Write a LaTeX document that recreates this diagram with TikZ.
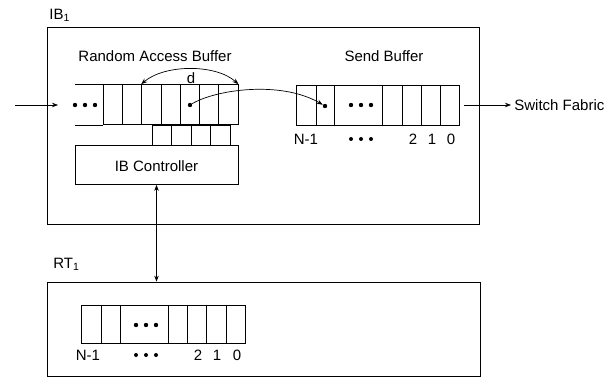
\documentclass[tikz,border=0pt]{standalone}
\usepackage{fontspec}
\setmainfont{Liberation Sans}
\usetikzlibrary{arrows.meta}
\begin{document}
\begin{tikzpicture}[x=1pt,y=-1pt,line width=0.7pt,
  >={Stealth[length=6pt,width=4.5pt]},
  lbl/.style={font=\fontsize{15}{17}\selectfont,inner sep=0pt},
  box/.style={draw,inner sep=0pt},
  cell/.style={draw,inner sep=0pt,minimum height=40pt},
  dotf/.style={fill,circle,inner sep=0pt,minimum size=4.4pt},
  dots/.style={fill,circle,inner sep=0pt,minimum size=4pt}]
\useasboundingbox (0,0) rectangle (614,377);
% outer boxes
\node[box,minimum width=432pt,minimum height=197pt] (ib) at (263,125.5) {};
\node[box,minimum width=433pt,minimum height=94pt] (rt) at (263.5,329) {};
\node[lbl,anchor=west] (ibl) at (49,15) {IB\textsubscript{1}};
\node[lbl,anchor=west] (rtl) at (53,264) {RT\textsubscript{1}};
% random access buffer
\node[lbl] (ralbl) at (155,56) {Random Access Buffer};
\draw (75,84) -- (103,84) (75,125) -- (103,125);
\foreach \i in {0,...,6}{
  \node[cell,minimum width=19.29pt] (ra\i) at ({103+19.29*\i+9.64},104.5) {};
}
\foreach \x in {75,85,95}{\node[dotf] at (\x,105) {};}
% small cells
\foreach \i in {0,...,3}{
  \node[box,minimum width=19.5pt,minimum height=20pt] (sc\i) at ({152+19.5*\i+9.75},135) {};
}
% controller
\node[box,minimum width=163pt,minimum height=39pt] (ctrl) at (156.5,165) {};
\node[lbl] (ctrll) at (156.5,166) {IB Controller};
% d arrow
\draw[<->] (ra2.north west) .. controls (165,64) and (216,64) .. (ra6.north east);
\node[lbl] (dl) at (191,78) {d};
% send buffer
\node[lbl] (sblbl) at (384,56) {Send Buffer};
\draw (296,85) rectangle (459,125);
\foreach \x in {316,334,382,402,421,440}{\draw (\x,85) -- (\x,125);}
\foreach \x in {351,361,371}{\node[dotf] at (\x,105) {};}
\node[dotf] (srcdot) at (190,105) {};
\node[dotf] (dstdot) at (325,106) {};
\draw[->] (srcdot) .. controls (215,90) and (280,80) .. (dstdot);
\node[lbl] at (306,139) {N-1};
\foreach \x in {351,361,371}{\node[dots] at (\x,139) {};}
\node[lbl] at (413,139) {2};
\node[lbl] at (432,139) {1};
\node[lbl] at (451,139) {0};
% in/out arrows
\coordinate (inp) at (15,105);
\coordinate (inq) at (58,105);
\draw[->] (inp) -- (inq);
\coordinate (outp) at (464,105);
\node[lbl,anchor=west] (sf) at (514,105) {Switch Fabric};
\draw[->,shorten >=3pt] (outp) -- (sf.west);
% controller <-> RT
\draw[<->] (ctrl.south) -- (ctrl.south |- rt.north);
% RT buffer
\draw (81,305) rectangle (245,343);
\foreach \x in {101,120,168,187,206,226}{\draw (\x,305) -- (\x,343);}
\foreach \x in {136,146,156}{\node[dotf] at (\x,325) {};}
\node[lbl] at (88,355) {N-1};
\foreach \x in {136,146,156}{\node[dots] at (\x,355) {};}
\node[lbl] at (198,355) {2};
\node[lbl] at (217,355) {1};
\node[lbl] at (237,355) {0};
\end{tikzpicture}
\end{document}
